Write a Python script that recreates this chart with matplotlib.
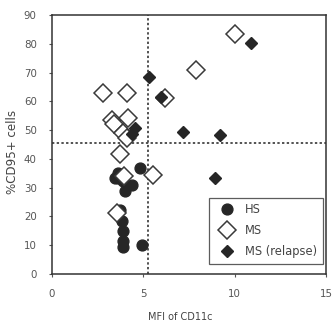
import numpy as np
import matplotlib.pyplot as plt

plt.rcParams['font.family'] = ['DejaVu Sans']

# HS (healthy subjects)
hs_x = [3.64, 3.46, 3.91, 4.37, 4.0, 4.83, 3.73, 3.82, 3.91, 3.91, 3.91, 4.92, 3.6]
hs_y = [35.0, 33.3, 32.2, 31.0, 28.7, 36.8, 22.3, 18.3, 14.8, 11.3, 9.5, 10.2, 33.5]

# MS
ms_x = [2.82, 4.1, 3.28, 3.4, 4.19, 3.91, 4.1, 3.73, 5.55, 6.2, 7.9, 10.0, 3.55, 3.95]
ms_y = [62.8, 63.0, 53.6, 52.0, 54.2, 49.0, 47.2, 41.6, 34.5, 61.2, 70.7, 83.5, 21.2, 34.0]

# MS (relapse)
rel_x = [5.32, 5.97, 4.55, 4.4, 7.16, 9.2, 8.93, 10.87]
rel_y = [68.3, 61.5, 50.7, 48.8, 49.3, 48.4, 33.3, 80.2]

cut_x = 5.25
cut_y = 45.5

fig = plt.figure(figsize=(3.35, 3.25), dpi=100)
ax = fig.add_axes([0.155, 0.157, 0.818, 0.797])

ax.plot(hs_x, hs_y, 'o', ms=7.8, mfc='#262626', mec='#262626', ls='none', label='HS')
ax.plot(ms_x, ms_y, 'D', ms=8.8, mfc='white', mec='#3a3a3a', mew=1.1, ls='none', label='MS')
ax.plot(rel_x, rel_y, 'D', ms=6.3, mfc='#262626', mec='#262626', ls='none', label='MS (relapse)')

ax.axvline(cut_x, color='#444444', ls=(0, (1.3, 1.3)), lw=1.3, zorder=0)
ax.axhline(cut_y, color='#444444', ls=(0, (1.3, 1.3)), lw=1.3, zorder=0)

ax.set_xlim(0, 15)
ax.set_ylim(0, 90)
ax.set_xticks([0, 5, 10, 15])
ax.set_yticks(np.arange(0, 91, 10))
ax.tick_params(labelsize=7.4, colors='#555555', length=2, width=0.8)
ax.tick_params(axis='x', pad=9)
ax.tick_params(axis='y', pad=9)
for s in ax.spines.values():
    s.set_linewidth(1.1)
    s.set_color('#333333')

ax.set_xlabel('MFI of CD11c', fontsize=7, color='#444444')
ax.xaxis.set_label_coords(0.47, -0.145)
ax.set_ylabel('%CD95+ cells', fontsize=8.6, color='#444444')
ax.yaxis.set_label_coords(-0.12, 0.47)

leg = ax.legend(loc='lower right', fontsize=8.3, frameon=True, fancybox=False,
                edgecolor='#333333', borderpad=0.45, labelspacing=0.7,
                handletextpad=0.4, handlelength=2.3, borderaxespad=0,
                bbox_to_anchor=(0.988, 0.04))
leg.get_frame().set_linewidth(0.9)
for t in leg.get_texts():
    t.set_color('#444444')

fig.savefig('out.png', dpi=100)
